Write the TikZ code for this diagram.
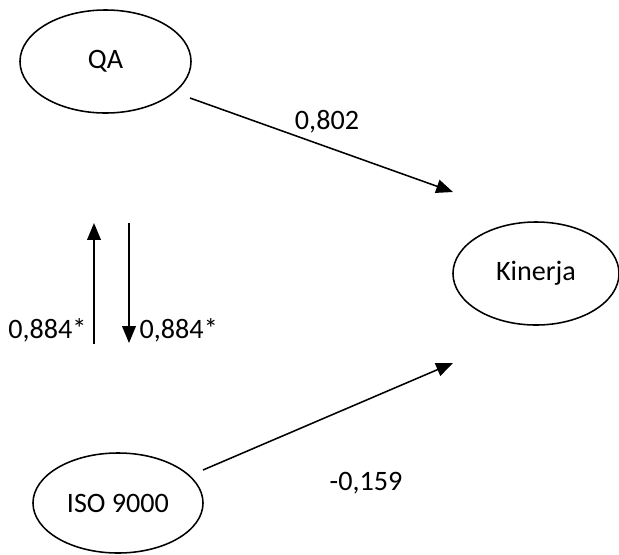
\documentclass[tikz,border=0pt]{standalone}
\usepackage{fontspec}
\setmainfont{Carlito}
\usepackage{tikz}
\usetikzlibrary{positioning,arrows.meta,shapes.geometric}

\begin{document}
\begin{tikzpicture}[
      x=0.025cm, y=-0.025cm,
      font=\fontsize{20}{24}\selectfont,
      every node/.style={align=center},
      var/.style={draw, ellipse, line width=1.1pt, inner sep=0pt,
                  minimum width=4.25cm, minimum height=2.55cm},
      path/.style={-{Triangle[length=4.2mm, width=3.4mm]}, line width=1.1pt},
      coef/.style={inner sep=1pt},
  ]
  \useasboundingbox (0,0) rectangle (619,554);

  % Latent variables
  \node[var, minimum width=4.275cm, minimum height=2.575cm] (qa)  at (105.5, 61.5) {QA};
  \node[var, minimum width=4.15cm,  minimum height=2.575cm] (kin) at (536, 273.5)  {Kinerja};
  \node[var, minimum width=4.25cm,  minimum height=2.5cm]   (iso) at (118, 503)    {ISO 9000};

  % Arrow end points
  \coordinate (qaout)  at (190, 98);
  \coordinate (kinin1) at (453, 192);
  \coordinate (isoout) at (203, 470);
  \coordinate (kinin2) at (453, 363);
  \coordinate (upbot)  at (94, 344);
  \coordinate (uptop)  at (94, 223);
  \coordinate (dntop)  at (129, 223);
  \coordinate (dnbot)  at (129, 343);

  % Paths
  \draw[path] (qaout) -- (kinin1);
  \draw[path] (isoout) -- (kinin2);
  \draw[path] (upbot) -- (uptop);
  \draw[path] (dntop) -- (dnbot);

  % Coefficients
  \node[coef] (c1) at (327, 122)   {0,802};
  \node[coef] (c2) at (366, 483)   {-0,159};
  \node[coef, anchor=east] (c3) at (88, 330)  {0,884*};
  \node[coef, anchor=west] (c4) at (138, 330) {0,884*};

\end{tikzpicture}
\end{document}
